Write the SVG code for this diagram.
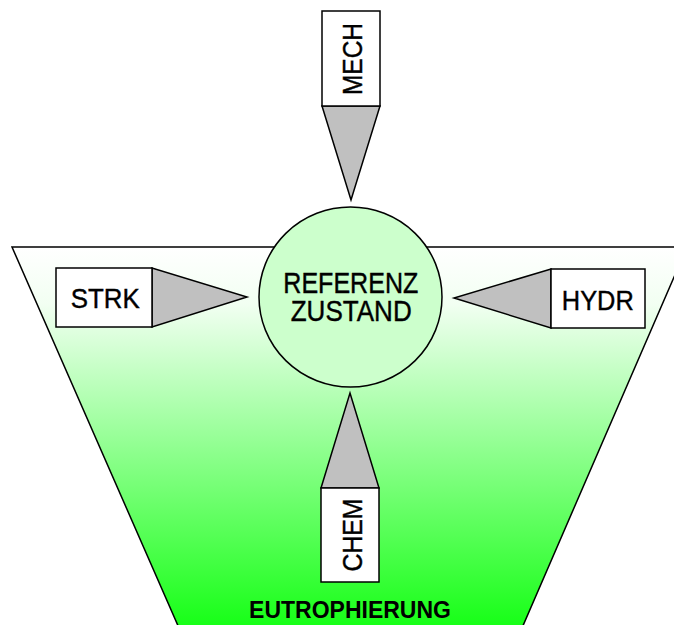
<svg xmlns="http://www.w3.org/2000/svg" width="674" height="625" viewBox="0 0 674 625">
<defs>
<linearGradient id="eutro" x1="0" y1="247" x2="0" y2="625" gradientUnits="userSpaceOnUse">
<stop offset="0" stop-color="#ffffff"/>
<stop offset="0.15" stop-color="#f2fff2"/>
<stop offset="1" stop-color="#18ff18"/>
</linearGradient>
<style>
.ln{stroke:#000;stroke-width:1.5;stroke-linejoin:miter}
.box{fill:#fff}
.tri{fill:#c0c0c0}
.lbl{font-family:"Liberation Sans",Arial,sans-serif;font-size:28px;fill:#000;stroke:#000;stroke-width:0.4;text-anchor:middle}
.big{font-family:"Liberation Sans",Arial,sans-serif;font-size:29px;fill:#000;stroke:#000;stroke-width:0.4;text-anchor:middle}
.bold{font-family:"Liberation Sans",Arial,sans-serif;font-size:23px;font-weight:bold;fill:#000;text-anchor:middle}
</style>
</defs>
<g id="eutrophierung">
<polygon class="ln" fill="url(#eutro)" points="12,247 687,247 522,628 179,628"/>
<text class="bold" x="350" y="618">EUTROPHIERUNG</text>
</g>
<g id="connectors">
<polygon class="ln tri" points="322,106 380,106 351,200"/>
<polygon class="ln tri" points="321,488 379,488 350,393"/>
<polygon class="ln tri" points="152,268 152,327 247,297"/>
<polygon class="ln tri" points="551,269 551,328 454,298"/>
</g>
<g id="referenz">
<ellipse class="ln" fill="#ccffcc" cx="350.5" cy="297" rx="91.5" ry="90"/>
<text class="big" x="350.8" y="292.7" textLength="135" lengthAdjust="spacingAndGlyphs">REFERENZ</text>
<text class="big" x="351.2" y="321" textLength="121" lengthAdjust="spacingAndGlyphs">ZUSTAND</text>
</g>
<g id="mech">
<rect class="ln box" x="322" y="11" width="58" height="95"/>
<text class="lbl" transform="translate(361.5,59) rotate(-90)" textLength="72" lengthAdjust="spacingAndGlyphs">MECH</text>
</g>
<g id="chem">
<rect class="ln box" x="321" y="488" width="58" height="94"/>
<text class="lbl" transform="translate(361.5,535) rotate(-90)" textLength="73" lengthAdjust="spacingAndGlyphs">CHEM</text>
</g>
<g id="strk">
<rect class="ln box" x="56" y="268" width="96" height="59"/>
<text class="lbl" x="105.3" y="308.3" textLength="69" lengthAdjust="spacingAndGlyphs">STRK</text>
</g>
<g id="hydr">
<rect class="ln box" x="551" y="269" width="94" height="59"/>
<text class="lbl" x="597.8" y="310" textLength="72" lengthAdjust="spacingAndGlyphs">HYDR</text>
</g>
</svg>
